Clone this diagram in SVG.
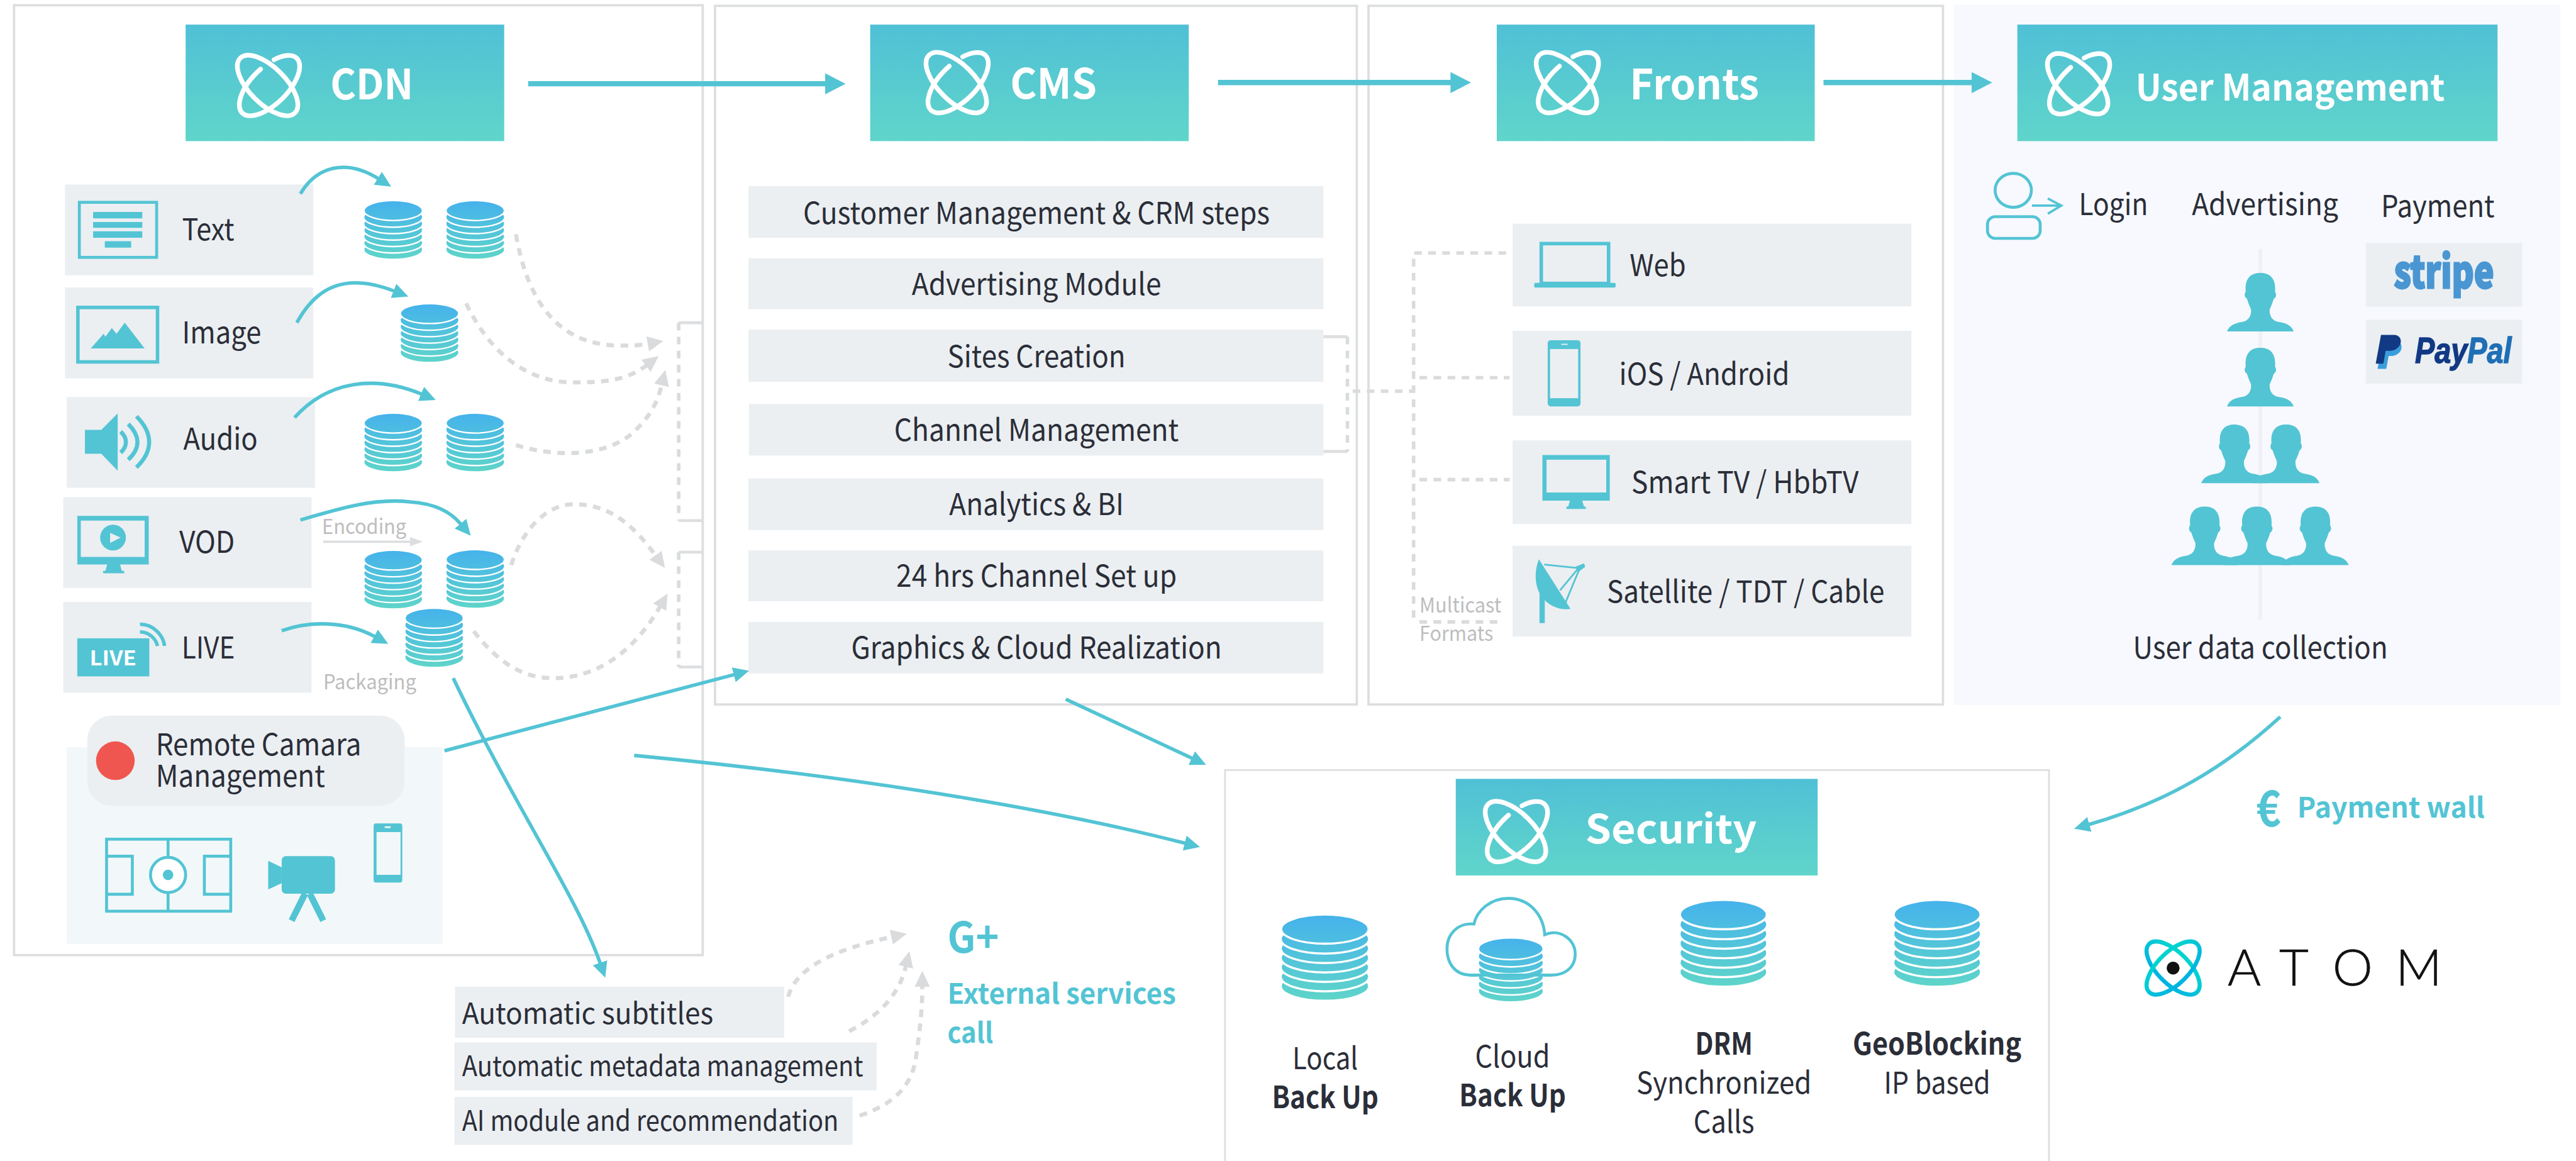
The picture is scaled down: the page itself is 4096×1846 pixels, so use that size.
<svg xmlns="http://www.w3.org/2000/svg" width="4096" height="1846" viewBox="0 0 4096 1846">
<style>
text{font-family:"Noto Sans CJK SC","Noto Sans",sans-serif;fill:#2b2e38;font-size:52px;font-weight:400}
.b{font-weight:700}
.m{text-anchor:middle}
.h{fill:#fff;font-weight:700;font-size:71px}
.g{fill:#bdbdbd;font-size:35px}
.t{fill:#53c4d4;font-weight:700}
.panel{fill:#fff;stroke:#dcdee0;stroke-width:4}
.item{fill:#ebeff2}
.hd{fill:url(#hg)}
.i{fill:#53c4d4}
.o{fill:none;stroke:#53c4d4}
.ca{fill:none;stroke:#53c4d4;stroke-width:6;marker-end:url(#mt)}
.cb{fill:none;stroke:#53c4d4;stroke-width:9;marker-end:url(#mb)}
.da{fill:none;stroke:#d9dbdd;stroke-width:7;stroke-dasharray:13 11;marker-end:url(#mg)}
.dl{fill:none;stroke:#d9dbdd;stroke-width:6;stroke-dasharray:13 11}
.sl{fill:none;stroke:#dcdee0;stroke-width:5}
</style>
<defs>
<linearGradient id="hg" x1="0" y1="0" x2="0" y2="1"><stop offset="0" stop-color="#50c0d6"/><stop offset="1" stop-color="#60d5ca"/></linearGradient>
<linearGradient id="dbg" gradientUnits="userSpaceOnUse" x1="0" y1="0" x2="0" y2="101"><stop offset="0" stop-color="#45b2ec"/><stop offset="1" stop-color="#5fd5c9"/></linearGradient>
<linearGradient id="ag" gradientUnits="userSpaceOnUse" x1="0" y1="-47" x2="0" y2="47"><stop offset="0" stop-color="#00e0c8"/><stop offset="1" stop-color="#00a8e8"/></linearGradient>
<marker id="mt" markerUnits="userSpaceOnUse" markerWidth="28" markerHeight="28" refX="1" refY="14" orient="auto" viewBox="0 0 28 28"><path d="M0 1L27 14L0 27Z" fill="#53c4d4"/></marker>
<marker id="mb" markerUnits="userSpaceOnUse" markerWidth="36" markerHeight="36" refX="1" refY="18" orient="auto" viewBox="0 0 36 36"><path d="M0 0L35 18L0 36Z" fill="#53c4d4"/></marker>
<marker id="mg" markerUnits="userSpaceOnUse" markerWidth="28" markerHeight="28" refX="1" refY="14" orient="auto" viewBox="0 0 28 28"><path d="M0 1L27 14L0 27Z" fill="#d9dbdd"/></marker>
<g id="atom" fill="none" stroke="#fff" stroke-width="8" stroke-linecap="round"><ellipse rx="66" ry="31" transform="rotate(45)"/><path d="M11 -44A66 31 -45 1 1 -12 -28"/></g>
<symbol id="db" viewBox="0 0 100 101" preserveAspectRatio="none" overflow="visible">
<g fill="url(#dbg)" stroke="#fff" stroke-width="2.5"><ellipse cx="50" cy="84" rx="50" ry="17"/><ellipse cx="50" cy="73" rx="50" ry="17"/><ellipse cx="50" cy="62" rx="50" ry="17"/><ellipse cx="50" cy="51" rx="50" ry="17"/><ellipse cx="50" cy="40" rx="50" ry="17"/><ellipse cx="50" cy="29" rx="50" ry="17"/><ellipse cx="50" cy="17.5" rx="49.5" ry="17"/></g>
</symbol>
<path id="person" d="M0 100C4 90 12 86 25 84C38 82 42 72 41 62C38 56 36 50 34 44C30 42 29 36 32 32C30 10 40 0 57 0C74 0 84 10 82 32C85 36 84 42 80 44C78 50 76 56 73 62C72 72 76 82 89 84C102 86 110 90 114 100Z" fill="#53c4d4"/>
</defs>
<rect width="4096" height="1846" fill="#fff"/>
<g transform="scale(0.93112)">

<rect class="panel" x="24" y="9" width="1176" height="1622"/>
<rect class="panel" x="1221" y="10" width="1096" height="1193"/>
<rect class="panel" x="2337" y="10" width="981" height="1193"/>
<rect x="3337" y="8" width="1035" height="1196" fill="#f7f9fe"/>
<path class="panel" style="stroke-width:3" d="M2092 1990V1315H3499V1990"/>

<g id="cdn">
<rect class="hd" x="317" y="42" width="544" height="199"/>
<use href="#atom" x="457" y="146"/>
<text class="h" x="564" y="170" textLength="142" lengthAdjust="spacingAndGlyphs">CDN</text>
</g>

<g id="item-text">
<rect class="item" x="111" y="315" width="424" height="155"/>
<rect class="o" stroke-width="5" x="135.500" y="345.500" width="132" height="94"/>
<path class="i" d="M159 362h84v11h-84zM159 379h84v10h-84zM159 395h84v11h-84zM179 412h45v11h-45z"/>
<text x="311" y="410" textLength="89" lengthAdjust="spacingAndGlyphs">Text</text>
<use href="#db" x="621" y="342" width="101" height="101"/>
<use href="#db" x="761" y="342" width="101" height="101"/>
</g>
<g id="item-image">
<rect class="item" x="111" y="491" width="424" height="155"/>
<rect class="o" stroke-width="6" x="133" y="525" width="136" height="93"/>
<path class="i" d="M155 595L177 570L180 575L191 560L199 570L213 551L247 595Z"/>
<text x="311" y="586" textLength="135" lengthAdjust="spacingAndGlyphs">Image</text>
<use href="#db" x="683" y="518" width="101" height="101"/>
</g>
<g id="item-audio">
<rect class="item" x="114" y="678" width="424" height="155"/>
<path class="i" d="M145 734H173L201 706V804L173 775H145Z"/>
<path class="o" stroke-width="7" d="M206 737C218 748 218 762 206 773M219 724C240 745 240 765 219 785M233 711C262 740 262 770 233 798"/>
<text x="313" y="768" textLength="127" lengthAdjust="spacingAndGlyphs">Audio</text>
<use href="#db" x="621" y="705" width="101" height="101"/>
<use href="#db" x="761" y="705" width="101" height="101"/>
</g>
<g id="item-vod">
<rect class="item" x="108" y="849" width="424" height="155"/>
<path class="i" d="M132 881H254V964H205L208 975H212V979H176V975H180L183 964H132Z"/>
<rect class="item" x="138" y="889" width="109" height="62"/>
<circle class="i" cx="193" cy="918" r="22"/>
<path d="M188 910L206 918L188 927Z" fill="#ebeff2"/>
<text x="306" y="944" textLength="95" lengthAdjust="spacingAndGlyphs">VOD</text>
<text class="g" x="550" y="912" textLength="144" lengthAdjust="spacingAndGlyphs">Encoding</text>
<use href="#db" x="621" y="939" width="101" height="101"/>
<use href="#db" x="761" y="938" width="101" height="101"/>
</g>
<g id="item-live">
<rect class="item" x="108" y="1028" width="424" height="155"/>
<rect class="i" x="132" y="1090" width="123" height="65"/>
<text x="193" y="1136" class="b m" style="fill:#fff;font-size:34px" textLength="80" lengthAdjust="spacingAndGlyphs">LIVE</text>
<path class="o" stroke-width="6" d="M239 1066C262 1066 279 1085 281 1103M239 1079C254 1079 266 1090 269 1103"/>
<text x="310" y="1124" textLength="91" lengthAdjust="spacingAndGlyphs">LIVE</text>
<text class="g" x="552" y="1177" textLength="159" lengthAdjust="spacingAndGlyphs">Packaging</text>
<use href="#db" x="691" y="1038" width="101" height="102"/>
</g>
<g id="remote">
<rect x="114" y="1276" width="642" height="336" fill="#f2f8f9"/>
<rect class="item" x="149" y="1222" width="542" height="154" rx="42"/>
<circle cx="197" cy="1299" r="33" fill="#f05650"/>
<text x="266" y="1290" textLength="351" lengthAdjust="spacingAndGlyphs">Remote Camara</text>
<text x="266" y="1344" textLength="289" lengthAdjust="spacingAndGlyphs">Management</text>
<g class="o" stroke-width="5">
<rect x="182" y="1433" width="212" height="123"/>
<path d="M287 1433V1556M182 1462H226V1527H182M394 1462H349V1527H394"/>
<circle cx="287" cy="1494" r="30" style="fill:#fff"/>
</g>
<circle class="i" cx="287" cy="1494" r="9"/>
<rect class="i" x="481" y="1462" width="91" height="64" rx="7"/>
<path class="i" d="M458 1470L481 1481V1508L458 1519Z"/>
<path class="o" stroke-width="11" d="M521 1526L498 1572M529 1526L552 1572"/>
<path class="i" fill-rule="evenodd" d="M642 1406H683Q687 1406 687 1410V1503Q687 1507 683 1507H642Q638 1507 638 1503V1410Q638 1406 642 1406ZM643 1421V1494H684V1421Z"/>
<rect x="657" y="1411" width="10" height="3" fill="#f2f8f9"/>
</g>

<g id="cms">
<rect class="hd" x="1486" y="42" width="544" height="199"/>
<use href="#atom" x="1633" y="141"/>
<text class="h" x="1725" y="169" textLength="148" lengthAdjust="spacingAndGlyphs">CMS</text>
</g>
<g id="cms-customer"><rect class="item" x="1278" y="318" width="982" height="88"/><text class="m" x="1770" y="382" textLength="797" lengthAdjust="spacingAndGlyphs">Customer Management &amp; CRM steps</text></g>
<g id="cms-advertising"><rect class="item" x="1278" y="441" width="982" height="87"/><text class="m" x="1770" y="504" textLength="426" lengthAdjust="spacingAndGlyphs">Advertising Module</text></g>
<g id="cms-sites"><rect class="item" x="1278" y="563" width="982" height="89"/><text class="m" x="1770" y="627" textLength="304" lengthAdjust="spacingAndGlyphs">Sites Creation</text></g>
<g id="cms-channel"><rect class="item" x="1279" y="690" width="981" height="88"/><text class="m" x="1770" y="753" textLength="486" lengthAdjust="spacingAndGlyphs">Channel Management</text></g>
<g id="cms-analytics"><rect class="item" x="1278" y="817" width="982" height="88"/><text class="m" x="1770" y="880" textLength="298" lengthAdjust="spacingAndGlyphs">Analytics &amp; BI</text></g>
<g id="cms-24hrs"><rect class="item" x="1278" y="940" width="982" height="87"/><text class="m" x="1770" y="1002" textLength="479" lengthAdjust="spacingAndGlyphs">24 hrs Channel Set up</text></g>
<g id="cms-graphics"><rect class="item" x="1278" y="1062" width="982" height="88"/><text class="m" x="1770" y="1124" textLength="633" lengthAdjust="spacingAndGlyphs">Graphics &amp; Cloud Realization</text></g>

<g id="fronts">
<rect class="hd" x="2556" y="42" width="543" height="199"/>
<use href="#atom" x="2675" y="141"/>
<text class="h" x="2783" y="170" textLength="221" lengthAdjust="spacingAndGlyphs">Fronts</text>
</g>
<g id="front-web">
<rect class="item" x="2583" y="382" width="681" height="141"/>
<rect class="o" stroke-width="6" x="2632" y="416" width="115" height="68"/>
<rect class="i" x="2620" y="483" width="139" height="8" rx="2"/>
<text x="2783" y="472" textLength="96" lengthAdjust="spacingAndGlyphs">Web</text>
</g>
<g id="front-ios">
<rect class="item" x="2583" y="565" width="681" height="145"/>
<rect class="i" x="2643" y="581" width="56" height="113" rx="5"/>
<rect class="item" x="2647" y="596" width="48" height="84"/>
<rect x="2666" y="587" width="11" height="2" fill="#ebeff2"/>
<text x="2765" y="657" textLength="291" lengthAdjust="spacingAndGlyphs">iOS / Android</text>
</g>
<g id="front-tv">
<rect class="item" x="2583" y="752" width="681" height="143"/>
<path class="i" d="M2634 777H2749V855H2702L2705 865H2708V869H2675V865H2678L2681 855H2634Z"/>
<rect class="item" x="2641" y="785" width="102" height="56"/>
<text x="2786" y="842" textLength="388" lengthAdjust="spacingAndGlyphs">Smart TV / HbbTV</text>
</g>
<g id="front-sat">
<rect class="item" x="2583" y="932" width="681" height="155"/>
<path class="i" d="M2629 1011H2638V1064H2629Z"/>
<path class="i" d="M2628 955L2682 1040C2665 1042 2645 1036 2632 1018C2620 1000 2620 975 2628 955Z"/>
<path class="o" stroke-width="3" d="M2637 964L2694 970M2664 1008L2694 972M2673 1030L2697 972"/>
<path class="i" d="M2690 968L2705 962L2707 968L2695 977Z"/>
<text x="2744" y="1029" textLength="474" lengthAdjust="spacingAndGlyphs">Satellite / TDT / Cable</text>
</g>
<g id="multicast">
<text class="g" x="2424" y="1046" textLength="140" lengthAdjust="spacingAndGlyphs">Multicast</text>
<text class="g" x="2424" y="1094" textLength="126" lengthAdjust="spacingAndGlyphs">Formats</text>
</g>

<g id="user-management">
<rect class="hd" x="3445" y="42" width="820" height="199"/>
<use href="#atom" x="3548" y="143"/>
<text class="h" x="3647" y="172" style="font-size:62px" textLength="528" lengthAdjust="spacingAndGlyphs">User Management</text>
</g>
<g id="login">
<ellipse class="o" stroke-width="5" cx="3438" cy="325" rx="31" ry="29"/>
<rect class="o" stroke-width="5" x="3394" y="370" width="90" height="37" rx="13"/>
<path class="o" stroke-width="4" d="M3470 351H3518M3497 339L3520 351L3497 365"/>
<text x="3550" y="367" textLength="118" lengthAdjust="spacingAndGlyphs">Login</text>
</g>
<g id="advertising"><text x="3743" y="367" textLength="250" lengthAdjust="spacingAndGlyphs">Advertising</text></g>
<g id="payment">
<text x="4066" y="371" textLength="194" lengthAdjust="spacingAndGlyphs">Payment</text>
<rect class="item" x="4040" y="415" width="267" height="109"/>
<text x="4088" y="492" style="fill:#4a96d2;stroke:#4a96d2;stroke-width:3;font-weight:900;font-size:76px" textLength="171" lengthAdjust="spacingAndGlyphs">stripe</text>
<rect class="item" x="4040" y="546" width="267" height="109"/>
<path fill="#3a9ddc" d="M4070 582H4090C4104 582 4105 600 4092 606C4088 608 4084 608 4079 608L4075 630H4060Z"/>
<path fill="#113984" d="M4066 572H4088C4103 572 4104 590 4090 597C4086 599 4080 599 4074 599L4070 621H4057Z"/>
<text x="4124" y="620" style="font-family:'Liberation Sans',sans-serif;font-weight:700;font-style:italic;font-size:62px;fill:#113984;stroke:#113984;stroke-width:1.500" textLength="165" lengthAdjust="spacingAndGlyphs">Pay<tspan style="fill:#1f6fb5;stroke:#1f6fb5">Pal</tspan></text>
</g>
<g id="user-data">
<rect x="3857" y="425" width="6" height="633" fill="#eef0f4"/>
<use href="#person" x="3803" y="466"/>
<use href="#person" x="3803" y="594"/>
<use href="#person" x="3759" y="725"/>
<use href="#person" x="3847" y="725"/>
<use href="#person" x="3708" y="865"/>
<use href="#person" x="3797" y="865"/>
<use href="#person" x="3897" y="865"/>
<text class="m" x="3860" y="1124" textLength="435" lengthAdjust="spacingAndGlyphs">User data collection</text>
</g>

<g id="security">
<rect class="hd" x="2486" y="1330" width="618" height="165"/>
<use href="#atom" x="2588" y="1420"/>
<text class="h" x="2707" y="1440" style="font-size:68px" textLength="293" lengthAdjust="spacingAndGlyphs">Security</text>
</g>
<g id="sec-local">
<use href="#db" x="2187" y="1561" width="151" height="148"/>
<text class="m" x="2263" y="1826" textLength="112" lengthAdjust="spacingAndGlyphs">Local</text>
<text class="m b" x="2263" y="1892" textLength="182" lengthAdjust="spacingAndGlyphs">Back Up</text>
</g>
<g id="sec-cloud">
<path class="o" stroke-width="5" style="fill:#fff" d="M2510 1665C2485 1665 2471 1645 2471 1620C2471 1595 2490 1575 2517 1578C2522 1555 2545 1534 2576 1534C2610 1534 2635 1560 2638 1596C2665 1585 2690 1605 2690 1629C2690 1650 2675 1665 2650 1665Z"/>
<use href="#db" x="2524" y="1601" width="112" height="110"/>
<path class="o" stroke-width="5" d="M2510 1665H2650"/>
<text class="m" x="2583" y="1823" textLength="128" lengthAdjust="spacingAndGlyphs">Cloud</text>
<text class="m b" x="2583" y="1889" textLength="182" lengthAdjust="spacingAndGlyphs">Back Up</text>
</g>
<g id="sec-drm">
<use href="#db" x="2868" y="1536" width="150" height="149"/>
<text class="m b" x="2944" y="1801" textLength="98" lengthAdjust="spacingAndGlyphs">DRM</text>
<text class="m" x="2944" y="1868" textLength="299" lengthAdjust="spacingAndGlyphs">Synchronized</text>
<text class="m" x="2944" y="1934" textLength="104" lengthAdjust="spacingAndGlyphs">Calls</text>
</g>
<g id="sec-geo">
<use href="#db" x="3233" y="1536" width="150" height="149"/>
<text class="m b" x="3308" y="1801" textLength="288" lengthAdjust="spacingAndGlyphs">GeoBlocking</text>
<text class="m" x="3308" y="1868" textLength="182" lengthAdjust="spacingAndGlyphs">IP based</text>
</g>
<g id="payment-wall">
<text class="t" x="3853" y="1411" style="font-size:84px" textLength="42" lengthAdjust="spacingAndGlyphs">€</text>
<text class="t" x="3923" y="1396" style="font-size:48px" textLength="320" lengthAdjust="spacingAndGlyphs">Payment wall</text>
</g>
<g id="atom-logo">
<g transform="translate(3711 1653)"><g fill="none" stroke="url(#ag)" stroke-width="7" stroke-linecap="round"><ellipse rx="58" ry="27" transform="rotate(45)"/><ellipse rx="58" ry="27" transform="rotate(-45)"/></g><circle r="11" fill="#111"/></g>
<text x="3804 3892 3983 4091" y="1683" style="font-family:Lato,sans-serif;font-weight:300;font-size:87px;fill:#111;stroke:#111;stroke-width:.8">ATOM</text>
</g>
<g id="ext-subtitles"><rect class="item" x="777" y="1685" width="562" height="87"/><text x="789" y="1748" style="font-size:50px" textLength="429" lengthAdjust="spacingAndGlyphs">Automatic subtitles</text></g>
<g id="ext-metadata"><rect class="item" x="776" y="1780" width="721" height="82"/><text x="789" y="1838" style="font-size:48px" textLength="685" lengthAdjust="spacingAndGlyphs">Automatic metadata management</text></g>
<g id="ext-ai"><rect class="item" x="776" y="1873" width="680" height="82"/><text x="789" y="1931" style="font-size:48px" textLength="643" lengthAdjust="spacingAndGlyphs">AI module and recommendation</text></g>
<g id="ext-services">
<text class="t" x="1618" y="1627" style="font-size:72px" textLength="88" lengthAdjust="spacingAndGlyphs">G+</text>
<text class="t" x="1618" y="1714" style="font-size:48px" textLength="390" lengthAdjust="spacingAndGlyphs">External services</text>
<text class="t" x="1618" y="1781" style="font-size:48px" textLength="78" lengthAdjust="spacingAndGlyphs">call</text>
</g>

<g id="connectors">
<path class="cb" d="M902 143H1410"/>
<path class="cb" d="M2080 141H2478"/>
<path class="cb" d="M3114 141H3368"/>
<path class="ca" d="M513 331C540 285 590 270 646 305"/>
<path class="ca" d="M507 551C540 490 590 465 673 497"/>
<path class="ca" d="M503 713C560 650 640 640 720 673"/>
<path class="ca" d="M513 888C580 868 640 850 700 857C745 860 770 875 787 895"/>
<path class="ca" d="M481 1077C530 1060 590 1060 640 1087"/>
<path class="ca" d="M774 1158C880 1380 985 1530 1025 1645"/>
<path class="ca" d="M759 1282L1254 1152"/>
<path class="ca" d="M1083 1290C1400 1320 1750 1370 2024 1440"/>
<path class="ca" d="M1820 1194L2036 1295"/>
<path class="ca" d="M3894 1224C3800 1310 3700 1370 3567 1408"/>
<path d="M552 925H700" stroke="#dcdee0" stroke-width="4" fill="none"/><path d="M700 917L722 925L700 933Z" fill="#dcdee0"/>
<path class="da" d="M881 400C900 510 950 590 1058 590Q1085 591 1107 587"/>
<path class="da" d="M796 518C830 590 890 653 980 653C1030 653 1070 650 1104 624"/>
<path class="da" d="M881 760C950 782 1040 780 1085 735C1110 710 1122 690 1130 657"/>
<path class="da" d="M873 965C890 910 930 861 980 861C1040 861 1080 895 1120 949"/>
<path class="da" d="M809 1078C850 1130 890 1158 945 1158C1030 1158 1090 1100 1127 1036"/>
<path class="dl" d="M1159 551V889M1159 943V1139"/>
<path class="sl" d="M1200 551H1159M1200 889H1159M1200 943H1159M1200 1139H1159"/>
<path class="sl" d="M2260 575H2301M2260 771H2301"/>
<path class="dl" d="M2301 575V771M2310 668H2414"/>
<path class="dl" d="M2572 432H2414V1062M2424 645H2578M2424 819H2578M2424 1062H2562"/>
<path class="da" d="M1346 1702C1360 1650 1430 1620 1523 1600"/>
<path class="da" d="M1450 1761C1500 1735 1535 1700 1547 1650"/>
<path class="da" d="M1468 1905C1530 1885 1560 1850 1565 1800C1572 1750 1575 1720 1575 1684"/>
</g>
</g>
</svg>
